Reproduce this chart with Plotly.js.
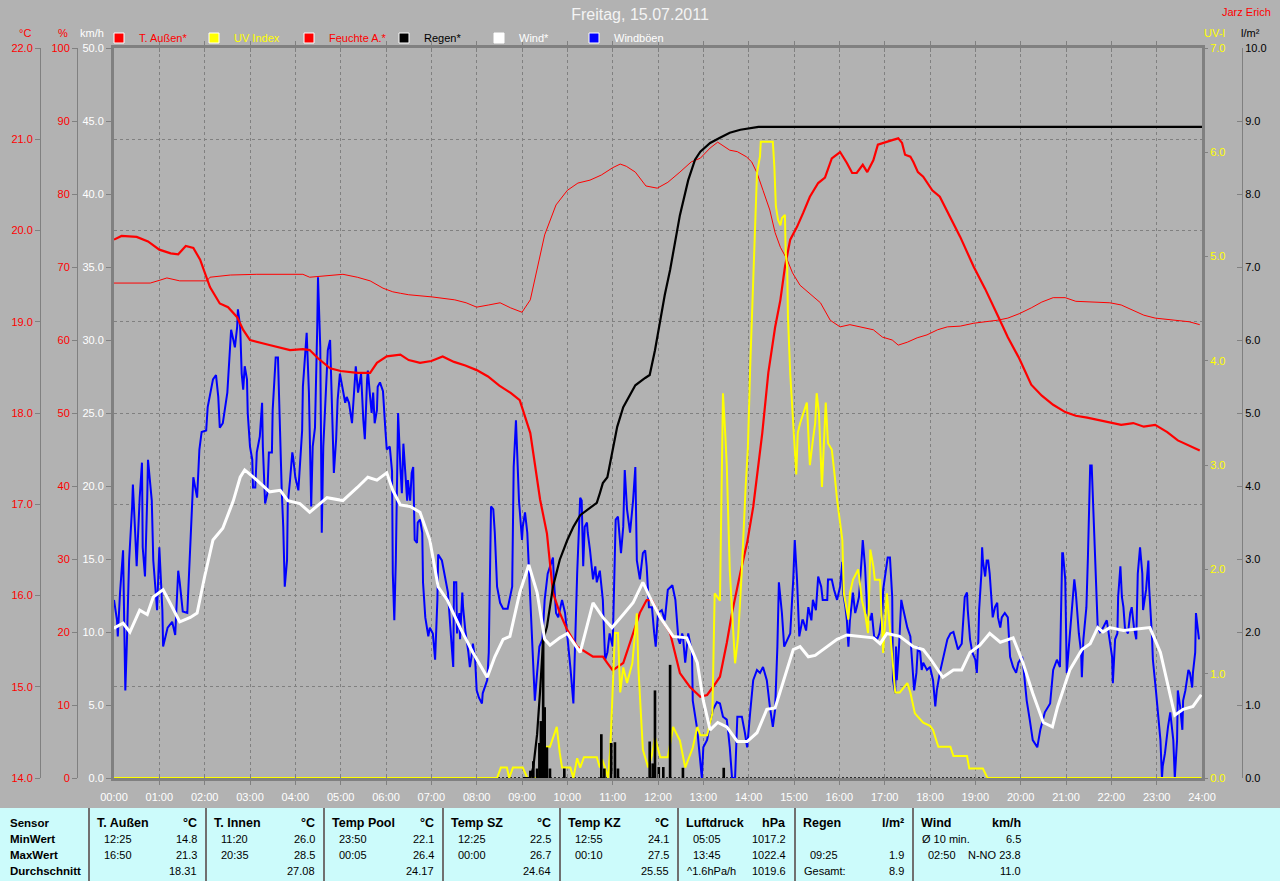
<!DOCTYPE html>
<html><head><meta charset="utf-8">
<script src="https://cdn.plot.ly/plotly-3.0.1.min.js"></script>
<style>html,body{margin:0;padding:0;background:#b2b2b2;}#chart{width:1280px;height:881px;}</style>
</head><body><div id="chart"></div>
<script>
// ---------- DATA (time in minutes after midnight) ----------
const timeTicks = ["00:00","01:00","02:00","03:00","04:00","05:00","06:00","07:00","08:00","09:00","10:00","11:00","12:00","13:00","14:00","15:00","16:00","17:00","18:00","19:00","20:00","21:00","22:00","23:00","24:00"];

const tempMin = [0,10,30,45,60,75,85,95,105,114,127,140,151,163,171,180,203,233,250,259,270,286,300,322,339,348,361,379,390,405,420,435,450,465,480,495,510,525,537,551,564,573,581,590,600,613,634,647,653,660,674,687,696,705,712,723,736,749,762,776,785,793,802,811,818,829,838,846,858,866,875,882,888,895,904,912,921,932,941,950,961,970,977,983,991,997,1005,1011,1021,1030,1038,1043,1047,1054,1058,1064,1071,1083,1093,1104,1120,1138,1153,1169,1183,1198,1214,1228,1243,1259,1273,1288,1304,1318,1333,1349,1363,1378,1394,1408,1423,1437];
const tempC = [19.90,19.94,19.93,19.88,19.79,19.75,19.74,19.83,19.81,19.68,19.38,19.20,19.16,19.05,18.91,18.80,18.75,18.69,18.70,18.69,18.60,18.49,18.46,18.44,18.44,18.55,18.62,18.64,18.58,18.55,18.57,18.62,18.56,18.52,18.47,18.40,18.30,18.22,18.14,17.78,17.05,16.68,16.03,15.81,15.62,15.44,15.33,15.33,15.26,15.18,15.26,15.59,15.81,15.95,15.95,15.76,15.59,15.15,15.00,14.89,14.91,15.00,15.11,15.48,15.81,16.25,16.58,16.97,17.78,18.44,18.94,19.24,19.60,19.90,20.04,20.19,20.37,20.52,20.58,20.79,20.86,20.74,20.63,20.63,20.72,20.64,20.77,20.94,20.97,20.99,21.01,20.96,20.83,20.81,20.75,20.64,20.59,20.44,20.37,20.19,19.93,19.60,19.36,19.08,18.83,18.60,18.31,18.19,18.09,18.01,17.97,17.95,17.92,17.89,17.87,17.89,17.85,17.87,17.79,17.70,17.64,17.59];

const humMin = [0,48,61,70,87,123,127,154,189,250,259,277,303,322,339,356,369,379,390,421,451,466,480,496,511,525,540,551,560,570,585,600,614,630,645,660,670,678,690,704,719,733,749,764,776,789,799,805,815,825,837,844,851,859,868,875,882,891,898,908,921,935,948,961,974,987,1005,1017,1030,1038,1050,1063,1076,1090,1103,1120,1138,1153,1169,1183,1198,1214,1228,1243,1259,1273,1288,1318,1333,1349,1363,1378,1408,1423,1437];
const humPct = [67.8,67.8,68.2,68.5,68.1,68.1,68.6,68.9,69.0,69.0,68.6,68.8,69.0,68.6,68.1,67.1,66.6,66.4,66.2,65.9,65.5,65.1,64.5,64.8,65.1,64.4,63.8,65.5,69.6,74.4,78.5,80.5,81.5,81.9,82.6,83.6,84.1,83.8,83.0,81.1,80.8,81.6,83.0,84.4,84.9,86.3,87.1,86.7,86.0,85.8,85.1,84.4,82.9,80.5,77.8,74.7,72.7,71.0,69.2,67.5,66.4,65.1,62.7,61.8,62.1,61.8,61.4,60.4,60.0,59.3,59.7,60.3,60.7,61.4,61.8,61.9,62.3,62.5,62.7,63.0,63.6,64.4,65.2,65.8,65.8,65.3,65.2,65.1,64.8,64.1,63.4,63.0,62.7,62.5,62.1];

const uvMin = [0,507,512,520,523,528,541,547,560,564,568,572,577,586,590,593,604,608,613,617,622,639,643,646,650,654,657,660,663,667,670,674,679,686,692,694,700,707,712,716,723,733,740,749,756,766,772,776,785,792,795,802,805,806,809,811,815,822,826,831,836,839,842,844,846,848,851,855,856,872,874,876,879,882,884,888,889,891,892,895,899,901,903,905,908,917,921,925,928,930,933,937,940,942,945,950,954,957,964,966,972,974,978,985,990,994,998,1001,1005,1007,1014,1018,1023,1027,1031,1034,1040,1050,1054,1060,1071,1080,1084,1091,1107,1111,1129,1132,1150,1156,1439];
const uvIdx = [0,0,0.1,0.1,0,0.1,0.1,0,0,0.1,0.1,0.3,0.3,0.49,0.24,0.1,0.1,0,0.19,0.1,0.2,0.2,0.1,0.18,0.1,0,0.3,0.78,1.39,1.39,0.82,1.06,0.91,1.1,1.58,1.06,0.27,0.1,0.22,0.39,0.2,0.2,0.49,0.36,0.1,0.29,0.49,0.41,0.41,0.62,1.77,1.7,3.05,3.69,3.3,3.0,1.99,1.1,1.35,2.0,2.79,3.17,3.94,4.39,4.78,5.28,5.80,5.96,6.10,6.10,5.86,5.48,5.35,5.30,5.37,5.40,5.03,4.90,4.42,3.88,3.41,3.15,2.91,3.31,3.40,3.60,3.00,3.24,3.40,3.69,3.50,2.79,3.27,3.60,3.21,3.15,2.89,2.67,2.28,1.77,1.52,1.77,1.9,2.0,1.7,1.58,1.39,2.19,2.03,1.9,1.9,1.2,1.77,1.4,1.1,0.82,0.82,0.91,0.82,0.62,0.53,0.5,0.46,0.3,0.3,0.21,0.21,0.09,0.09,0,0];

const rainCumMin = [540,551,555,560,564,568,573,581,590,600,608,617,630,639,643,647,653,660,666,674,679,690,703,709,716,723,729,736,743,749,760,769,776,789,802,815,829,842,853,1440];
const rainCum = [0,0,0.15,0.6,1.2,1.89,2.07,2.62,2.99,3.26,3.44,3.60,3.70,3.77,3.90,4.04,4.12,4.49,4.81,5.08,5.18,5.38,5.48,5.52,5.86,6.27,6.62,6.96,7.36,7.71,8.19,8.47,8.58,8.70,8.77,8.84,8.88,8.90,8.92,8.92];

const rainBarMin = [551,555,560,563,565,568,570,573,577,596,645,649,658,663,667,709,713,716,721,727,736,753,807];
const rainBar = [0.1,0.23,0.13,0.48,0.78,1.9,0.97,0.42,0.13,0.13,0.6,0.13,0.48,0.49,0.13,0.5,0.2,1.2,0.15,0.15,1.55,0.14,0.14];
// zero line of the rain-rate series (drawn dotted)
const rainZeroMin = [0,1440];
const rainZero = [0,0];

const windMin = [0,1,12,21,34,44,52,65,74,87,101,110,120,131,144,158,167,173,189,206,220,230,246,259,282,303,322,336,348,361,369,379,392,405,418,429,441,458,475,494,504,515,524,537,549,560,570,577,590,600,617,634,647,659,674,687,700,709,723,740,758,772,780,789,799,811,825,838,851,864,875,885,899,908,919,928,944,957,970,987,1005,1014,1023,1040,1058,1071,1080,1097,1111,1122,1133,1146,1159,1173,1190,1203,1216,1230,1242,1249,1265,1281,1292,1302,1309,1318,1336,1354,1371,1385,1394,1404,1415,1428,1439];
const windKmh = [10.2,10.3,10.6,10.0,11.5,11.2,12.4,12.9,12.0,10.7,11.0,11.3,13.8,16.3,17.1,19.0,20.6,21.1,20.4,19.6,19.7,19.0,18.8,18.2,19.2,19.0,19.9,20.6,20.4,20.9,19.7,18.7,18.6,18.2,16.3,13.1,12.2,10.3,8.6,6.9,8.3,9.5,9.7,12.7,14.6,12.7,9.5,9.1,9.6,9.9,8.6,12.0,11.0,10.3,11.2,12.0,13.4,12.4,11.0,9.7,9.6,7.9,5.3,3.3,3.8,3.5,2.5,2.5,3.1,4.7,4.8,6.5,8.8,9.0,8.3,8.4,9.0,9.5,9.8,9.7,9.6,9.2,9.9,9.7,9.0,8.8,8.2,6.9,7.4,7.4,8.6,9.1,9.9,9.3,9.6,7.9,5.8,3.8,3.5,4.9,7.4,8.8,9.2,10.3,10.0,10.3,10.1,10.2,10.3,8.6,6.5,4.3,4.7,4.9,5.7];

const gustMin = [0,4,5,8,12,13,15,17,20,24,25,28,30,34,37,38,41,44,45,50,52,57,60,64,65,71,77,81,85,87,91,97,99,103,105,110,113,116,122,124,127,131,135,138,140,144,150,152,155,158,160,163,164,167,169,171,173,176,177,180,183,184,187,189,193,196,197,200,203,205,209,210,214,217,220,222,224,226,229,230,233,236,237,240,244,249,250,253,255,258,261,263,266,269,270,273,275,277,281,283,286,289,291,294,296,299,303,306,308,311,315,316,320,323,327,330,332,335,336,339,341,343,345,348,349,352,356,359,361,365,368,369,371,373,375,376,379,381,383,385,388,389,392,394,396,398,401,402,405,408,409,412,416,418,422,425,428,429,434,438,442,446,449,450,453,454,457,458,461,462,465,469,471,474,475,478,480,483,487,488,494,496,499,502,504,507,511,515,521,527,528,529,532,533,536,540,541,544,547,551,553,555,557,560,563,567,570,574,581,582,585,588,593,597,600,601,604,608,610,613,617,619,621,623,626,627,630,634,637,639,643,647,650,653,656,660,664,667,671,674,676,679,683,687,690,692,696,700,703,705,708,712,715,717,720,725,729,733,739,743,747,749,752,753,756,760,765,766,772,776,778,780,785,789,793,798,802,806,811,813,815,818,822,825,831,835,838,842,846,851,855,859,864,868,872,875,878,880,884,887,891,895,899,901,904,907,911,912,916,919,923,925,929,932,936,938,944,945,950,953,957,961,964,965,968,970,972,974,978,981,983,986,990,991,994,997,1001,1003,1006,1010,1013,1017,1018,1022,1024,1027,1030,1031,1034,1035,1036,1039,1042,1044,1047,1050,1054,1056,1059,1062,1064,1067,1069,1071,1076,1080,1084,1087,1089,1093,1097,1103,1107,1111,1116,1117,1122,1124,1126,1129,1130,1133,1136,1140,1142,1144,1145,1148,1149,1150,1153,1155,1157,1159,1162,1163,1166,1169,1170,1173,1175,1179,1183,1186,1190,1194,1197,1202,1204,1208,1212,1216,1222,1226,1232,1239,1243,1248,1252,1255,1256,1259,1261,1264,1268,1271,1273,1275,1277,1280,1281,1283,1287,1289,1292,1294,1296,1297,1300,1302,1305,1309,1314,1318,1321,1322,1325,1328,1329,1332,1334,1336,1338,1342,1345,1347,1350,1353,1355,1358,1361,1362,1366,1369,1370,1374,1375,1379,1382,1385,1387,1388,1391,1394,1395,1398,1400,1402,1404,1407,1408,1411,1414,1415,1418,1420,1422,1424,1427,1428,1431,1432,1433,1436];
const gustKmh = [12.2,10.8,9.7,12.7,15.6,12.4,6.0,9.2,14.9,18.6,20.1,16.8,14.5,19.2,21.6,15.8,13.8,19.2,21.8,19.0,14.9,11.5,15.8,11.5,9.0,10.3,10.7,9.8,14.2,13.4,11.4,11.3,13.4,18.6,20.6,19.2,22.5,23.7,23.8,25.4,26.2,27.3,27.6,26.1,24.0,24.3,26.4,28.2,30.7,30.0,29.5,30.9,32.1,30.9,27.7,26.6,28.2,27.3,25.0,22.7,21.8,19.9,19.9,22.3,23.4,25.7,22.7,18.8,19.5,22.3,22.3,25.2,28.8,28.8,22.7,19.7,17.2,13.1,14.9,18.8,20.4,22.3,22.0,20.6,19.7,23.8,26.8,29.3,30.5,26.4,18.6,22.7,24.0,30.9,34.3,29.5,16.8,22.7,26.8,29.3,30.0,24.5,20.9,23.2,25.9,27.7,26.4,25.7,26.1,25.7,24.3,25.2,28.2,26.4,27.7,24.5,23.2,27.3,27.9,26.1,25.0,26.4,24.3,25.2,26.8,27.1,26.5,24.0,22.5,22.7,21.0,14.0,10.8,14.9,21.0,25.0,21.3,19.5,22.9,21.3,19.0,20.4,19.0,20.9,21.3,16.3,16.1,17.5,17.7,16.8,13.4,11.0,9.7,10.3,9.9,8.1,12.2,15.3,14.9,13.8,12.7,9.7,7.6,13.4,13.4,9.9,11.3,9.5,12.7,11.7,10.1,8.6,7.6,8.6,9.2,8.1,6.0,5.5,5.1,5.8,6.7,8.6,18.6,18.4,16.8,13.1,12.0,11.6,11.6,13.1,19.0,21.3,24.5,23.2,19.0,16.3,17.2,18.2,16.8,12.2,10.1,8.3,5.3,7.2,9.0,9.5,12.2,14.0,15.1,13.8,11.3,11.0,12.2,11.3,9.9,9.0,7.6,5.1,9.5,14.0,19.2,19.0,14.5,17.2,17.5,16.8,15.6,13.6,14.5,13.4,14.2,12.2,8.1,8.6,9.9,9.0,17.7,17.9,15.4,17.2,21.1,18.4,16.8,19.0,21.3,14.9,13.6,15.4,15.6,14.5,11.7,11.7,9.9,9.0,11.3,11.5,10.8,12.9,13.2,12.2,9.5,9.2,9.9,9.7,7.9,9.9,8.6,5.3,3.3,1.0,0.0,2.1,2.6,3.8,4.7,5.2,5.1,4.2,4.0,3.1,2.1,0.0,0.0,4.2,4.2,3.1,2.1,4.5,6.7,7.4,7.2,7.6,6.7,4.9,3.5,4.7,9.0,13.4,11.3,9.0,9.5,9.9,13.6,16.3,13.6,9.7,10.8,10.8,10.1,11.7,10.8,12.2,11.5,13.8,13.1,12.2,12.2,13.6,13.6,12.9,12.2,13.1,14.8,12.7,11.7,10.8,9.0,10.8,12.7,11.3,11.7,12.4,15.4,16.3,14.5,11.3,10.8,11.3,9.7,9.5,9.9,11.3,12.9,14.5,15.1,15.1,12.4,6.7,5.8,9.0,6.7,9.0,12.2,11.7,11.0,10.3,9.7,8.3,6.0,7.2,9.0,8.6,7.4,7.9,7.4,7.6,6.7,4.9,6.0,7.2,8.1,9.5,9.9,10.0,9.0,8.8,9.2,10.8,12.4,12.7,11.5,9.5,8.6,8.1,7.2,9.5,11.5,14.0,15.8,14.9,13.8,14.9,14.9,14.0,11.7,11.0,11.7,12.0,11.0,10.3,11.0,11.3,11.0,8.3,7.6,7.2,7.9,8.3,7.4,5.3,4.0,2.6,2.1,3.3,4.5,5.1,7.4,8.1,7.6,15.4,15.4,13.6,7.2,9.0,11.3,13.6,12.7,11.0,9.9,8.6,6.9,9.5,11.7,15.1,21.4,21.4,18.6,17.5,14.0,10.3,10.0,10.3,10.8,9.5,8.3,6.5,9.5,9.9,12.4,14.5,12.4,11.7,10.3,9.9,11.3,11.7,10.3,9.5,14.0,15.8,14.0,11.5,12.9,14.9,13.1,9.5,8.1,6.0,4.5,2.6,0.0,0.8,1.7,3.1,3.5,4.5,3.5,2.6,0.0,2.6,6.0,4.9,3.3,5.3,6.0,6.7,7.4,7.2,6.2,7.2,8.6,11.3,10.8,9.5];

// table
const tableHeads = ["T. Außen","T. Innen","Temp Pool","Temp SZ","Temp KZ","Luftdruck","Regen","Wind"];
const tableUnits = ["°C","°C","°C","°C","°C","hPa","l/m²","km/h"];
const rowLabels = ["Sensor","MinWert","MaxWert","Durchschnitt"];
const minTime = ["12:25","11:20","23:50","12:25","12:55","05:05","","Ø 10 min."];
const minVal = ["14.8","26.0","22.1","22.5","24.1","1017.2","","6.5"];
const maxTime = ["16:50","20:35","00:05","00:00","00:10","13:45","09:25","02:50"];
const maxVal = ["21.3","28.5","26.4","26.7","27.5","1022.4","1.9","N-NO 23.8"];
const avgLabel = ["","","","","","^1.6hPa/h","Gesamt:",""];
const avgVal = ["18.31","27.08","24.17","24.64","25.55","1019.6","8.9","11.0"];

// ---------- LAYOUT HELPERS ----------
const PL=40, PR=1242, PT=48, PB=778;
const px2x = p => (p-PL)/(PR-PL);
const py2y = p => (PB-p)/(PB-PT);
const FONT = 'Liberation Sans, Arial, sans-serif';
const AX = '#808080';
const BG = '#b2b2b2';

const traces = [];
// legend keys
const legendKeys = [
  ['T. Außen*','#ff0000','#ff0000'],
  ['UV Index','#ffff00','#ffff00'],
  ['Feuchte A.*','#ff0000','#ff0000'],
  ['Regen*','#000000','#000000'],
  ['Wind*','#ffffff','#ffffff'],
  ['Windböen','#0000ff','#ffffff']
];
legendKeys.forEach(k => traces.push({type:'scatter', mode:'markers', x:[null], y:[null],
  name:'<span style="color:'+k[2]+'">'+k[0]+'</span>',
  marker:{symbol:'square', size:10, color:k[1], line:{color:'#ffffff', width:1}},
  hoverinfo:'skip', showlegend:true}));

traces.push({type:'scatter', mode:'lines', x:rainZeroMin, y:rainZero, xaxis:'x', yaxis:'y', line:{color:'#000000', width:1.5, dash:'2px,2px'}, showlegend:false, hoverinfo:'skip'});
traces.push({type:'scatter', mode:'lines', x:gustMin, y:gustKmh, xaxis:'x', yaxis:'y', line:{color:'#0000ff', width:2}, showlegend:false, hoverinfo:'skip'});
traces.push({type:'scatter', mode:'lines', x:tempMin, y:tempC, yaxis:'y2', line:{color:'#ff0000', width:2.2}, showlegend:false, hoverinfo:'skip'});
traces.push({type:'scatter', mode:'lines', x:humMin, y:humPct, yaxis:'y3', line:{color:'#ff0000', width:1}, showlegend:false, hoverinfo:'skip'});
traces.push({type:'scatter', mode:'lines', x:uvMin, y:uvIdx, yaxis:'y4', line:{color:'#ffff00', width:2}, showlegend:false, hoverinfo:'skip'});
traces.push({type:'bar', x:rainBarMin, y:rainBar, yaxis:'y5', width:3.5, marker:{color:'#000000', line:{width:0}}, showlegend:false, hoverinfo:'skip'});
traces.push({type:'scatter', mode:'lines', x:rainCumMin, y:rainCum, yaxis:'y5', line:{color:'#000000', width:2.2}, showlegend:false, hoverinfo:'skip'});
traces.push({type:'scatter', mode:'lines', x:windMin, y:windKmh, yaxis:'y6', line:{color:'#ffffff', width:3}, showlegend:false, hoverinfo:'skip'});

const baseY = {zeroline:false, fixedrange:true, showgrid:false, tickfont:{size:11, family:FONT}, ticks:'outside', ticklen:5, tickcolor:AX, tickwidth:1, showline:true, linecolor:AX, linewidth:1};

const annotations = [];
function ann(text, px, py, color, anchor, size, bold){
  annotations.push({text: bold ? '<b>'+text+'</b>' : text, xref:'paper', yref:'paper', x:px2x(px), y:py2y(py),
    xanchor:anchor, yanchor:'middle', showarrow:false, font:{family:FONT, size:size, color:color}});
}
// axis headers
ann('°C', 25, 33, '#ff0000', 'center', 11);
ann('%', 63, 33, '#ff0000', 'center', 11);
ann('km/h', 92, 33, '#ffffff', 'center', 11);
ann('UV-I', 1214, 33, '#ffff00', 'center', 11);
ann('l/m²', 1250, 33, '#000000', 'center', 11);
ann('Jarz Erich', 1273, 12, '#ff0000', 'right', 11);

// table
const colBounds = [89,206,324,443,560,678,795,913,1030];
const rowY = [823,839,855,871];
rowLabels.forEach((t,i) => ann(t, 8, rowY[i], '#000000', 'left', 11.5, true));
function leftOff(t){ return /^[0-9]/.test(t) ? 13 : 7; }
tableHeads.forEach((h,i) => {
  const L = colBounds[i], R = colBounds[i+1];
  ann(h, L+6, rowY[0], '#000000', 'left', 12.5, true);
  ann(tableUnits[i], R-7, rowY[0], '#000000', 'right', 12.5, true);
  if (minTime[i]) ann(minTime[i], L+leftOff(minTime[i]), rowY[1], '#000000', 'left', 11);
  if (minVal[i]) ann(minVal[i], R-7, rowY[1], '#000000', 'right', 11);
  if (maxTime[i]) ann(maxTime[i], L+leftOff(maxTime[i]), rowY[2], '#000000', 'left', 11);
  if (maxVal[i]) ann(maxVal[i], R-7, rowY[2], '#000000', 'right', 11);
  if (avgLabel[i]) ann(avgLabel[i], L+leftOff(avgLabel[i]), rowY[3], '#000000', 'left', 11);
  if (avgVal[i]) ann(avgVal[i], R-7, rowY[3], '#000000', 'right', 11);
});

const shapes = [{type:'rect', xref:'paper', yref:'paper', x0:px2x(0), x1:px2x(1280), y0:py2y(808), y1:py2y(881), fillcolor:'#ccfbfb', line:{width:0}, layer:'below'}];
colBounds.slice(0,8).forEach(b => shapes.push({type:'line', xref:'paper', yref:'paper', x0:px2x(b), x1:px2x(b), y0:py2y(808), y1:py2y(881), line:{color:'#707070', width:2}}));

const layout = {
  width:1280, height:881, autosize:false,
  paper_bgcolor:BG, plot_bgcolor:BG,
  margin:{l:PL, r:1280-PR, t:PT, b:881-PB, pad:0, autoexpand:false},
  font:{family:FONT, size:11, color:'#ffffff'},
  title:{text:'Freitag, 15.07.2011', x:0.5, xref:'container', xanchor:'center', y:1-14/881, yref:'container', yanchor:'middle', font:{family:FONT, size:16, color:'#f4f4f4'}},
  showlegend:true,
  legend:{orientation:'h', x:px2x(99), xanchor:'left', y:py2y(38), yanchor:'middle', bgcolor:'rgba(0,0,0,0)', borderwidth:0,
    font:{family:FONT, size:11, color:'#ffffff'}, entrywidth:50, entrywidthmode:'pixels', itemwidth:30, traceorder:'normal', itemclick:false, itemdoubleclick:false},
  xaxis:{domain:[px2x(114), px2x(1202)], range:[0,1440], tickmode:'array', tickvals:timeTicks.map((t,i)=>i*60), ticktext:timeTicks,
    showgrid:true, gridcolor:AX, griddash:'3px,3px', gridwidth:1, showline:true, linecolor:AX, linewidth:3, mirror:'allticks',
    ticks:'inside', ticklen:4, tickcolor:AX, tickwidth:1, ticklabelstandoff:7, tickfont:{size:11, color:'#ffffff', family:FONT}, zeroline:false, fixedrange:true, anchor:'y'},
  yaxis:Object.assign({}, baseY, {range:[0,50], dtick:5, tick0:0, tickformat:'.1f', tickfont:{size:11, color:'#ffffff', family:FONT}, linewidth:3, mirror:true, anchor:'x', side:'left'}),
  yaxis2:Object.assign({}, baseY, {overlaying:'y', anchor:'free', position:0, side:'left', range:[14,22], dtick:1, tick0:14, tickformat:'.1f', tickfont:{size:11, color:'#ff0000', family:FONT}, showgrid:true, gridcolor:AX, griddash:'3px,3px', gridwidth:1}),
  yaxis3:Object.assign({}, baseY, {overlaying:'y', anchor:'free', position:px2x(77), side:'left', range:[0,100], dtick:10, tick0:0, tickformat:'d', tickfont:{size:11, color:'#ff0000', family:FONT}}),
  yaxis4:Object.assign({}, baseY, {overlaying:'y', anchor:'x', side:'right', range:[0,7], dtick:1, tick0:0, tickformat:'.1f', tickfont:{size:11, color:'#ffff00', family:FONT}}),
  yaxis5:Object.assign({}, baseY, {overlaying:'y', anchor:'free', position:1, side:'right', range:[0,10], dtick:1, tick0:0, tickformat:'.1f', ticks:'inside', tickfont:{size:11, color:'#000000', family:FONT}}),
  yaxis6:{overlaying:'y', anchor:'x', side:'left', range:[0,50], visible:false, fixedrange:true},
  annotations:annotations,
  shapes:shapes,
  hovermode:false
};

Plotly.newPlot('chart', traces, layout, {staticPlot:true, displayModeBar:false});
</script>
</body></html>
